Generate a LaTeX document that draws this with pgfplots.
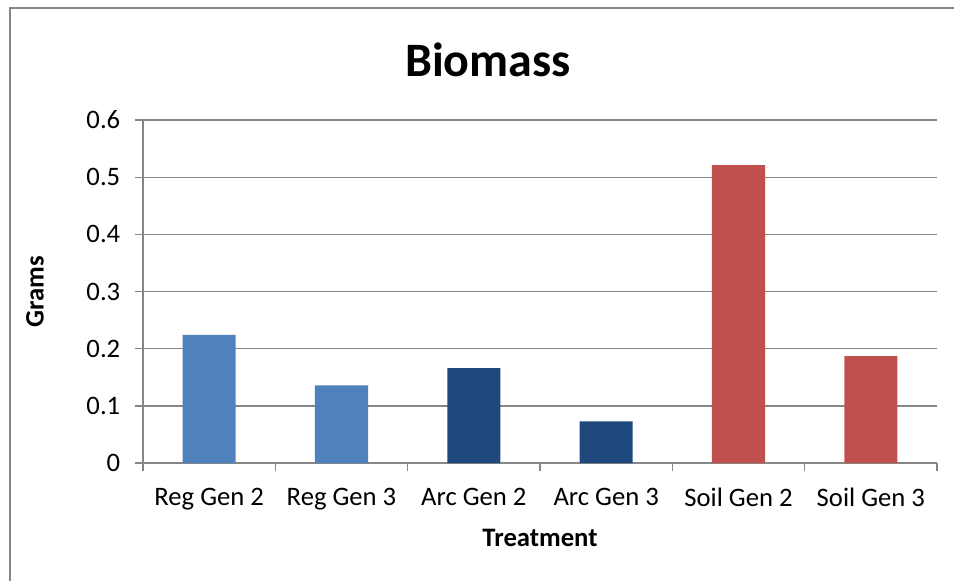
\documentclass[border=0pt]{standalone}
\usepackage{fontspec}
\setmainfont{Carlito}
\usepackage{pgfplots}
\pgfplotsset{compat=1.18}

\definecolor{regblue}{HTML}{4F81BD}
\definecolor{arcblue}{HTML}{1F497D}
\definecolor{soilred}{HTML}{C0504D}
\definecolor{axgray}{HTML}{868686}

\begin{document}
\begin{tikzpicture}
% canvas: 954 x 581 px at 0.375pt per px
\useasboundingbox (0,0) rectangle (357.75pt,217.875pt);
\draw[axgray, line width=0.6pt] (3.75pt,0) -- (3.75pt,214.9pt) -- (357.75pt,214.9pt);
\node[font=\fontsize{18}{20}\selectfont\bfseries] at (183pt,195.4pt) {Biomass};
\begin{axis}[
  at={(53.625pt,44.25pt)}, anchor=south west,
  scale only axis,
  width=297.75pt, height=128.6pt,
  xmin=-0.5, xmax=5.5,
  ymin=0, ymax=0.6,
  ytick={0,0.1,...,0.6},
  yticklabel style={/pgf/number format/fixed, /pgf/number format/precision=1},
  /pgf/number format/assume math mode=true,
  xtick={0,...,5},
  xticklabels={Reg Gen 2,Reg Gen 3,Arc Gen 2,Arc Gen 3,Soil Gen 2,Soil Gen 3},
  minor xtick={-0.5,0.5,...,5.5},
  major x tick style={draw=none},
  tick style={axgray, line width=0.5pt},
  tick align=outside,
  major tick length=3pt,
  minor tick length=3pt,
  axis x line*=bottom,
  axis y line*=left,
  axis line style={axgray, line width=0.5pt, -},
  ymajorgrids,
  grid style={axgray, line width=0.5pt},
  tick label style={font=\fontsize{10}{12}\selectfont, black},
  yticklabel style={xshift=-2pt},
  xticklabel style={yshift=-3pt},
  xlabel={Treatment}, ylabel={Grams},
  label style={font=\fontsize{10}{12}\selectfont\bfseries},
  xlabel style={at={(rel axis cs:0.5,-0.219)}, anchor=center},
  ylabel style={at={(rel axis cs:-0.136,0.5)}, anchor=center, rotate=0},
  ybar, bar width=19.9pt, bar shift=0pt,
  clip=false,
]
\addplot[draw=none, fill=regblue] coordinates {(0,0.224) (1,0.136)};
\addplot[draw=none, fill=arcblue] coordinates {(2,0.166) (3,0.073)};
\addplot[draw=none, fill=soilred] coordinates {(4,0.521) (5,0.187)};
\end{axis}
\end{tikzpicture}
\end{document}
